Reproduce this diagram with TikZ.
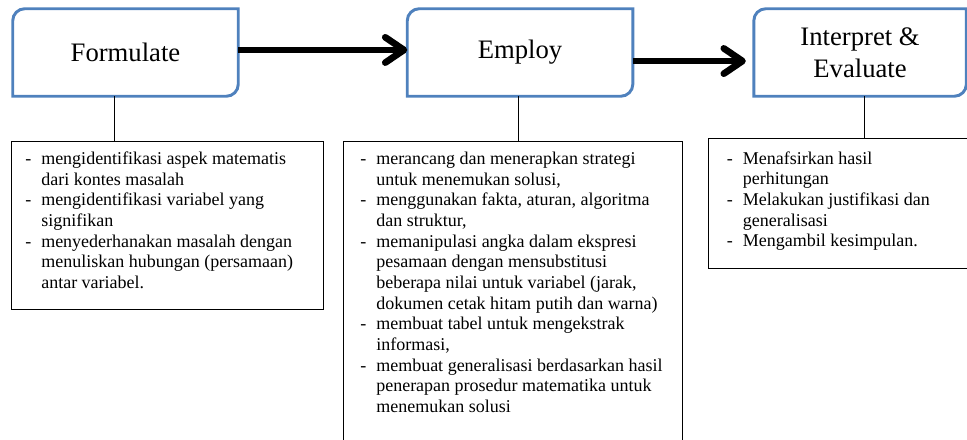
\documentclass[tikz,border=0pt]{standalone}
\usepackage{fontspec}
\setmainfont{Liberation Serif}
\usetikzlibrary{positioning, arrows.meta}
\definecolor{stageblue}{RGB}{79,129,189}

\newcommand{\dashitem}{\makebox[12pt][l]{-}}
\newcommand{\dashcont}{\hspace*{12pt}}
% bingkai tahap: sudut kiri atas dan kanan bawah membulat
\newcommand{\stageframe}[1]{%
  \draw[stageline] (#1.south west) -- ([yshift=-9pt]#1.north west)
    arc[start angle=180, end angle=90, radius=9pt] -- (#1.north east)
    -- ([yshift=9pt]#1.south east)
    arc[start angle=0, end angle=-90, radius=9pt] -- cycle;}

\begin{document}
\begin{tikzpicture}[x=0.75pt, y=-0.75pt,
    stage/.style={rectangle, inner sep=0pt, minimum width=168.75pt, minimum height=65.25pt, align=center, font=\fontsize{20}{24}\selectfont},
    stageline/.style={draw=stageblue, line width=2.2pt},
    descbox/.style={rectangle, draw, line width=0.8pt, anchor=north west, inner sep=0pt},
    desctext/.style={align=left, inner sep=0pt, font=\fontsize{13.5}{15.5}\selectfont},
    flow/.style={line width=5pt, -{Straight Barb[length=14pt, width=19pt, round]}},
    link/.style={line width=0.8pt}
]

\useasboundingbox (0,0) rectangle (967,439);
\clip (0,0) rectangle (967,439);

% tahapan
\node[stage] (formulate) at (125.5,52.5) {Formulate};
\node[stage, right=126.75pt of formulate] (employ) {Employ};
\node[stage, minimum width=159pt, right=90.75pt of employ] (interpret) {Interpret \&\\Evaluate};

\stageframe{formulate}
\stageframe{employ}
\stageframe{interpret}

% panah antar tahap
\draw[flow] ([yshift=1.9pt]formulate.east) -- ([yshift=1.9pt]employ.west);
\draw[flow, shorten >=6pt] ([yshift=-6.4pt]employ.east) -- ([yshift=-6.4pt]interpret.west);

% kotak keterangan
\node[descbox, minimum width=234pt, minimum height=126pt] (fdesc) at (11,141) {};
\node[descbox, minimum width=254.25pt, minimum height=240pt] (edesc) at (343,141) {};
\node[descbox, minimum width=196.5pt, minimum height=97.5pt] (idesc) at (708,138) {};

\node[desctext, below right=8pt and 10.5pt of fdesc.north west] (ftext) {%
  \dashitem mengidentifikasi aspek matematis\\
  \dashcont dari kontes masalah\\
  \dashitem mengidentifikasi variabel yang\\
  \dashcont signifikan\\
  \dashitem menyederhanakan masalah dengan\\
  \dashcont menuliskan hubungan (persamaan)\\
  \dashcont antar variabel.};

\node[desctext, below right=8pt and 12.75pt of edesc.north west] (etext) {%
  \dashitem merancang dan menerapkan strategi\\
  \dashcont untuk menemukan solusi,\\
  \dashitem menggunakan fakta, aturan, algoritma\\
  \dashcont dan struktur,\\
  \dashitem memanipulasi angka dalam ekspresi\\
  \dashcont pesamaan dengan mensubstitusi\\
  \dashcont beberapa nilai untuk variabel (jarak,\\
  \dashcont dokumen cetak hitam putih dan warna)\\
  \dashitem membuat tabel untuk mengekstrak\\
  \dashcont informasi,\\
  \dashitem membuat generalisasi berdasarkan hasil\\
  \dashcont penerapan prosedur matematika untuk\\
  \dashcont menemukan solusi};

\node[desctext, below right=10pt and 14pt of idesc.north west] (itext) {%
  \dashitem Menafsirkan hasil\\
  \dashcont perhitungan\\
  \dashitem Melakukan justifikasi dan\\
  \dashcont generalisasi\\
  \dashitem Mengambil kesimpulan.};

% garis penghubung
\draw[link] ([xshift=-8.6pt]formulate.south) -- ([xshift=-8.6pt]formulate.south |- fdesc.north);
\draw[link] ([xshift=-1.5pt]employ.south) -- ([xshift=-1.5pt]employ.south |- edesc.north);
\draw[link] ([xshift=3pt]interpret.south) -- ([xshift=3pt]interpret.south |- idesc.north);

\end{tikzpicture}
\end{document}
